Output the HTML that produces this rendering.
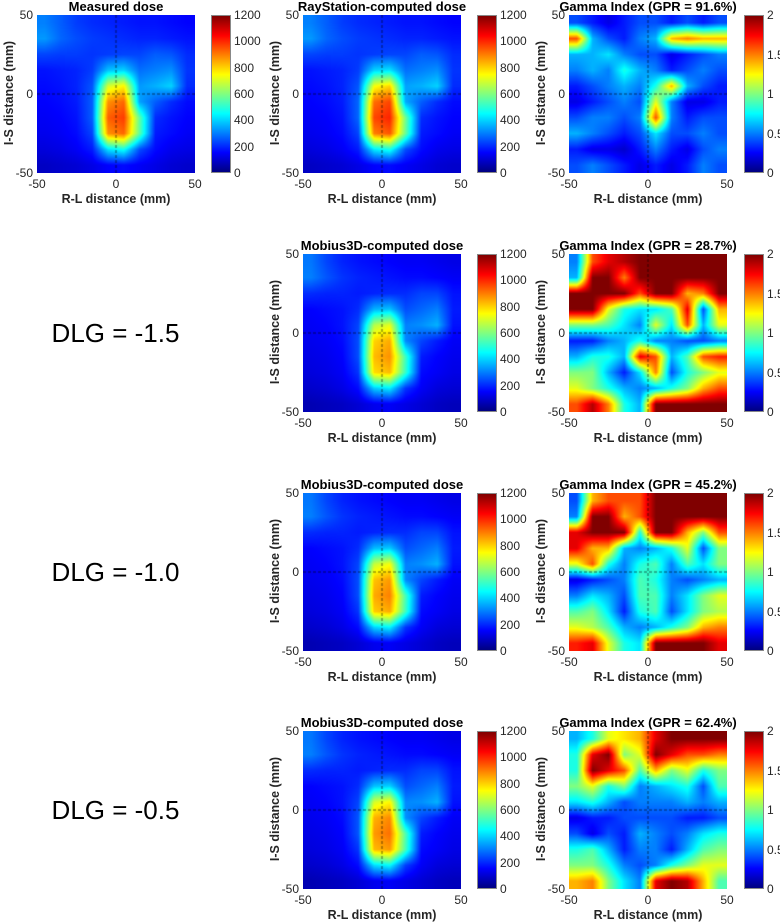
<!DOCTYPE html>
<html><head><meta charset="utf-8">
<style>
body{margin:0;background:#fff;}
#root{position:relative;width:780px;height:924px;overflow:hidden;font-family:"Liberation Sans",Arial,sans-serif;color:#262626;}
.t{position:absolute;white-space:nowrap;}
canvas{position:absolute;}
</style></head><body>
<div id="root"></div>
<script>
// ---- data (rows top y=+45 to bottom y=-45, cols x=-45..45) ----
const measuredDose=[
[300,260,220,200,190,180,170,170,160,150],
[330,270,240,220,210,200,190,190,180,170],
[230,220,220,210,220,230,230,260,250,200],
[170,180,190,220,380,400,280,300,320,210],
[160,170,190,250,700,760,330,360,400,200],
[150,160,180,260,880,930,340,260,200,160],
[140,150,170,260,940,980,560,200,170,150],
[130,140,160,230,880,930,560,180,160,140],
[110,120,140,180,420,470,240,160,130,120],
[80,90,100,120,150,160,140,120,100,90]];
const rayDose=[
[300,260,220,200,190,180,170,170,160,150],
[330,270,240,220,210,200,190,190,180,170],
[230,220,220,210,220,230,230,260,250,200],
[170,180,190,220,400,420,280,300,320,210],
[160,170,190,250,740,800,340,360,400,200],
[150,160,180,270,920,970,350,260,200,160],
[140,150,170,270,970,1010,580,200,170,150],
[130,140,160,230,900,950,570,180,160,140],
[110,120,140,180,430,480,240,160,130,120],
[80,90,100,120,150,160,140,120,100,90]];
const mobiusDose1=[
[290,230,190,170,160,150,140,140,130,120],
[300,250,210,190,180,170,160,160,150,140],
[200,190,190,180,190,200,200,230,230,170],
[150,160,170,200,360,380,240,270,300,180],
[140,150,170,230,660,720,300,320,360,170],
[130,140,160,240,800,850,310,230,180,140],
[120,130,150,240,830,880,520,180,150,130],
[110,120,140,210,790,830,510,160,140,120],
[90,100,120,160,390,430,210,140,110,100],
[60,70,80,100,130,140,120,100,80,70]];
const mobiusDose2=[
[290,230,190,170,160,150,140,140,130,120],
[300,250,210,190,180,170,160,160,150,140],
[200,190,190,180,190,200,200,230,230,170],
[150,160,170,200,370,390,240,270,300,180],
[140,150,170,230,680,740,300,320,360,170],
[130,140,160,240,820,870,310,230,180,140],
[120,130,150,240,850,900,530,180,150,130],
[110,120,140,210,810,850,520,160,140,120],
[90,100,120,160,400,440,210,140,110,100],
[60,70,80,100,130,140,120,100,80,70]];
const mobiusDose3=[
[290,230,190,170,160,150,140,140,130,120],
[300,250,210,190,180,170,160,160,150,140],
[200,190,190,180,190,200,200,230,230,170],
[150,160,170,200,380,400,240,270,300,180],
[140,150,170,230,700,760,310,320,360,170],
[130,140,160,250,840,890,320,230,180,140],
[120,130,150,250,870,920,540,180,150,130],
[110,120,140,210,830,870,530,160,140,120],
[90,100,120,160,410,450,220,140,110,100],
[60,70,80,100,130,140,120,100,80,70]];
const gamma1=[
[0.4,0.3,0.2,0.3,0.4,0.4,0.3,0.4,0.3,0.4],
[1.6,0.6,0.4,0.3,0.5,0.6,1.4,1.5,1.4,1.4],
[0.6,0.6,0.7,0.5,0.4,0.4,0.2,0.3,0.4,0.5],
[0.5,0.6,0.5,0.8,0.6,0.5,0.3,0.4,0.5,0.4],
[0.3,0.4,0.5,0.6,0.5,0.8,1.4,0.6,0.4,0.3],
[0.2,0.3,0.4,0.5,0.4,1.2,0.5,0.2,0.2,0.3],
[0.4,0.5,0.5,0.4,0.5,1.6,0.5,0.3,0.4,0.4],
[0.6,0.5,0.4,0.3,0.4,0.7,0.4,0.4,0.5,0.4],
[0.3,0.2,0.2,0.15,0.3,0.5,0.3,0.2,0.4,0.5],
[0.4,0.5,0.4,0.3,0.2,0.3,0.2,0.3,0.5,0.4]];
const gamma2=[
[0.5,1.6,1.8,1.9,2,2,2,2,2,2],
[0.6,2,2,1.5,2,2,2,2,2,2],
[2,2,2,2,1.6,2,2,1.4,1.5,2],
[2,2,1.2,0.8,0.7,0.7,0.9,1.8,0.4,1.4],
[1.0,1.0,0.9,0.7,0.5,1.2,0.7,1.6,0.6,1.2],
[0.3,0.3,0.5,0.6,0.8,0.5,0.5,0.4,0.4,0.5],
[0.6,0.8,0.8,0.6,1.8,1.6,0.6,0.9,1.6,1.7],
[1.0,1.0,0.6,0.3,0.7,1.5,0.4,0.8,1.0,1.2],
[1.2,1.0,0.8,0.6,0.5,0.6,0.8,1.0,1.4,1.6],
[1.6,1.9,1.5,0.8,0.6,2,2,2,2,2]];
const gamma3=[
[0.4,1.4,1.6,1.6,1.6,2,2,2,2,2],
[0.5,2,2,1.4,1.6,2,2,2,2,2],
[1.8,2,2,2,0.8,2,2,1.4,1.0,1.6],
[1.8,1.4,1.4,0.6,0.5,0.6,0.8,1.2,0.4,1.0],
[1.2,1.6,0.8,0.5,0.8,0.9,0.5,0.9,0.7,1.0],
[0.2,0.3,0.4,0.5,0.9,0.8,0.5,0.4,0.5,0.6],
[0.5,0.7,0.6,0.4,0.9,0.9,0.5,0.7,1.0,1.2],
[0.9,1.0,0.7,0.3,0.8,0.9,0.4,0.7,1.0,1.1],
[1.2,1.1,0.9,0.6,0.5,0.6,0.8,1.0,1.4,1.5],
[1.7,1.8,1.2,0.8,0.7,2,2,2,2,1.8]];
const gamma4=[
[0.6,0.8,1.2,1.3,1.4,1.8,2,2,2,2],
[0.8,1.8,2,1.0,1.2,2,1.8,1.6,1.6,1.5],
[0.8,2,1.8,1.6,0.9,1.4,1.0,1.2,0.8,1.0],
[1.0,1.2,0.8,1.0,0.5,0.6,0.7,0.8,0.4,0.9],
[0.7,0.8,0.6,0.4,0.5,0.5,0.5,0.6,0.5,0.6],
[0.2,0.3,0.3,0.4,0.4,0.4,0.4,0.3,0.3,0.4],
[0.4,0.2,0.4,0.3,0.6,0.5,0.4,0.5,0.7,0.8],
[0.8,0.9,0.6,0.3,0.5,0.5,0.3,0.6,0.9,1.0],
[1.0,1.0,0.8,0.5,0.4,0.5,0.8,1.0,1.2,1.2],
[1.4,1.5,1.0,0.7,0.5,1.8,2,1.9,1.4,0.9]];
const axisTicks=[-50,0,50];
const doseTicks=[0,200,400,600,800,1000,1200];
const gammaTicks=[0,0.5,1,1.5,2];
const dlgLabels=["DLG = -1.5","DLG = -1.0","DLG = -0.5"];

const root=document.getElementById('root');
const PW=158,PH=158;
function clamp(v){return Math.max(0,Math.min(1,v));}
function jet(t){return [clamp(1.5-Math.abs(4*t-3)),clamp(1.5-Math.abs(4*t-2)),clamp(1.5-Math.abs(4*t-1))].map(v=>Math.round(v*255));}
function txt(s,x,y,opts,name){
  const d=document.createElement('div');d.className='t';d.textContent=s;
  
  
  Object.assign(d.style,opts);d.style.left=x+'px';d.style.top=y+'px';root.appendChild(d);return d;}
function panel(L,T,grid,vmax,ticks,title,nm){
  const c=document.createElement('canvas');c.width=PW;c.height=PH;
  c.style.left=L+'px';c.style.top=T+'px';
  
  
  root.appendChild(c);
  const ctx=c.getContext('2d');const im=ctx.createImageData(PW,PH);
  const n=grid.length,m=grid[0].length;
  for(let py=0;py<PH;py++){for(let px=0;px<PW;px++){
    let gx=(px+0.5)/PW*m-0.5,gy=(py+0.5)/PH*n-0.5;
    gx=Math.max(0,Math.min(m-1,gx));gy=Math.max(0,Math.min(n-1,gy));
    const x0=Math.floor(gx),y0=Math.floor(gy),x1=Math.min(m-1,x0+1),y1=Math.min(n-1,y0+1);
    const fx=gx-x0,fy=gy-y0;
    const v=(grid[y0][x0]*(1-fx)+grid[y0][x1]*fx)*(1-fy)+(grid[y1][x0]*(1-fx)+grid[y1][x1]*fx)*fy;
    const col=jet(v/vmax);const i=(py*PW+px)*4;
    im.data[i]=col[0];im.data[i+1]=col[1];im.data[i+2]=col[2];im.data[i+3]=255;}}
  ctx.putImageData(im,0,0);
  ctx.strokeStyle='rgba(0,0,0,0.6)';ctx.lineWidth=1;ctx.setLineDash([3,2]);
  ctx.beginPath();ctx.moveTo(PW/2,0);ctx.lineTo(PW/2,PH);ctx.moveTo(0,PH/2);ctx.lineTo(PW,PH/2);ctx.stroke();
  const sx=v=>L+(v+50)/100*PW, sy=v=>T+(50-v)/100*PH;
  axisTicks.forEach(v=>{
    txt(String(v),sx(v)-20,T+PH+4,{width:'40px',textAlign:'center',fontSize:'12px'},'x-tick-label');
    txt(String(v),L-40,sy(v)-7,{width:'36px',textAlign:'right',fontSize:'12px'},'y-tick-label');});
  txt('R-L distance (mm)',L-21,T+PH+19,{width:'200px',textAlign:'center',fontSize:'12.5px',fontWeight:'bold'},'x-axis-title');
  txt('I-S distance (mm)',L-128,T+PH/2-8,{width:'200px',textAlign:'center',fontSize:'12.5px',fontWeight:'bold',transform:'rotate(-90deg)'},'y-axis-title');
  txt(title,L-40,T-16,{width:PW+80+'px',textAlign:'center',fontSize:'13px',fontWeight:'bold',color:'#000'},'panel-title');
  const CL=L+174+(L>500?1:0),CW=20;
  const cb=document.createElement('div');
  
  
  let stops=[];for(let k=0;k<=8;k++){const col=jet(k/8);stops.push(`rgb(${col}) ${k/8*100}%`);}
  Object.assign(cb.style,{position:'absolute',left:CL+'px',top:T+'px',width:CW+'px',height:PH+'px',background:`linear-gradient(to top,${stops.join(',')})`,boxSizing:'border-box',border:'1px solid #888'});
  root.appendChild(cb);
  ticks.forEach(v=>{txt(String(v),CL+CW+3,T+PH-v/vmax*PH-7,{fontSize:'12px'},'colorbar-tick-label');});
}
const tops=[15,254,493,731],cols=[37,303,569];
panel(cols[0],tops[0],measuredDose,1200,doseTicks,'Measured dose','measured-dose');
panel(cols[1],tops[0],rayDose,1200,doseTicks,'RayStation-computed dose','raystation-dose');
panel(cols[2],tops[0],gamma1,2,gammaTicks,'Gamma Index (GPR = 91.6%)','gamma-raystation');
const mob=[mobiusDose1,mobiusDose2,mobiusDose3],gam=[gamma2,gamma3,gamma4],gpr=['28.7','45.2','62.4'];
for(let r=0;r<3;r++){
  panel(cols[1],tops[r+1],mob[r],1200,doseTicks,'Mobius3D-computed dose','mobius-dose-'+(r+1));
  panel(cols[2],tops[r+1],gam[r],2,gammaTicks,'Gamma Index (GPR = '+gpr[r]+'%)','gamma-mobius-'+(r+1));
  txt(dlgLabels[r],28,tops[r+1]+64,{width:'175px',textAlign:'center',fontSize:'26px',color:'#000'},'dlg-label');
}
</script>
</body></html>
